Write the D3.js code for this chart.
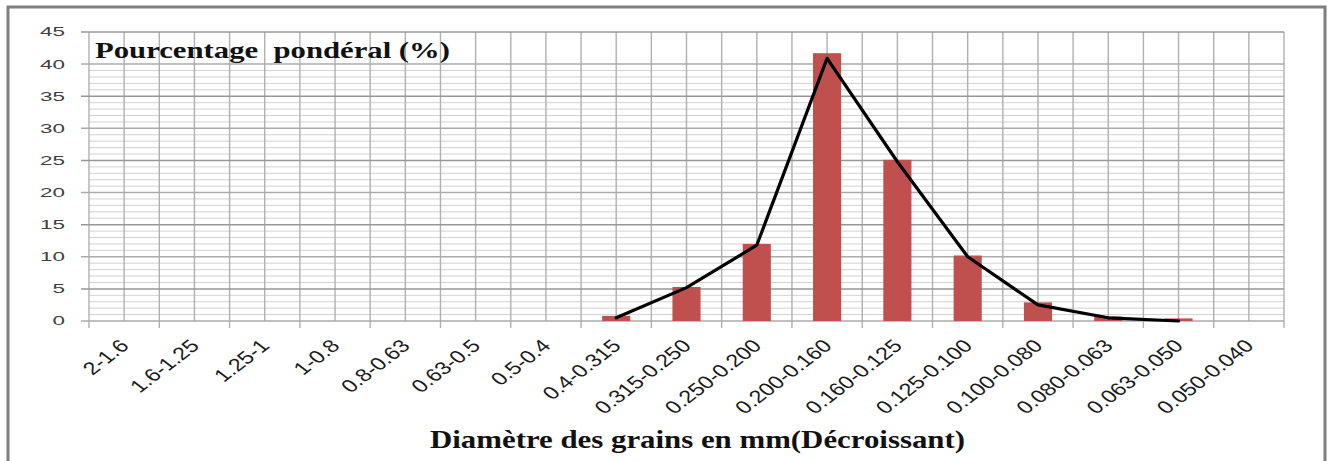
<!DOCTYPE html>
<html>
<head>
<meta charset="utf-8">
<script src="https://cdn.jsdelivr.net/npm/d3@7"></script>
<style>
  html, body { margin: 0; padding: 0; background: #fff; }
  svg { display: block; }
</style>
</head>
<body>
<script>
// ---- data ----
const categories = ["2-1.6","1.6-1.25","1.25-1","1-0.8","0.8-0.63","0.63-0.5","0.5-0.4","0.4-0.315","0.315-0.250","0.250-0.200","0.200-0.160","0.160-0.125","0.125-0.100","0.100-0.080","0.080-0.063","0.063-0.050","0.050-0.040"];
const barValues  = [0,0,0,0,0,0,0,0.8,5.3,12.0,41.7,25.1,10.2,2.9,0.7,0.4,0];
const lineValues = [null,null,null,null,null,null,null,0.5,5.2,11.8,40.9,24.8,10.0,2.5,0.5,0.0,null];
const yTicks = [0,5,10,15,20,25,30,35,40,45];
const yTitle = "Pourcentage  pondéral (%)";
const xTitle = "Diamètre des grains en mm(Décroissant)";

(function () {
const W = 1329, H = 461;
const svg = d3.select("body").append("svg").attr("width", W).attr("height", H);

const pL = 89, pR = 1284, pT = 32, pB = 321;
const x = d3.scaleBand().domain(categories).range([pL, pR]).padding(0);
const xb = d3.scaleBand().domain(categories).range([pL, pR]).paddingInner(0.6).paddingOuter(0.3);
const y = d3.scaleLinear().domain([0, 45]).range([pB, pT]);

// outer frame
svg.append("path")
  .attr("d", `M8,${H+5} L8,7 L1325,7 L1325,${H+5}`)
  .attr("fill", "none").attr("stroke", "#7f7f7f").attr("stroke-width", 3);

// minor horizontal gridlines
const minor = d3.range(1, 40).filter(v => v % 5 !== 0);
svg.append("g").selectAll("line").data(minor).join("line")
  .attr("x1", pL).attr("x2", pR)
  .attr("y1", d => y(d)).attr("y2", d => y(d))
  .attr("stroke", "#d2d2d2").attr("stroke-width", 1);

// vertical gridlines (category boundaries and centers)
const step = x.step();
const vpos = d3.range(0, categories.length * 2 + 1).map(k => pL + k * step / 2);
svg.append("g").selectAll("line").data(vpos).join("line")
  .attr("x1", d => d).attr("x2", d => d)
  .attr("y1", pT).attr("y2", (d, i) => i % 2 === 0 ? pB + 7 : pB)
  .attr("stroke", "#b0b0b0").attr("stroke-width", 1.4);

// major horizontal gridlines
svg.append("g").selectAll("line").data(yTicks).join("line")
  .attr("x1", pL - 8).attr("x2", pR)
  .attr("y1", d => y(d)).attr("y2", d => y(d))
  .attr("stroke", d => (d % 10 === 5) ? "#979797" : "#ababab").attr("stroke-width", 1.5);

// y tick labels
svg.append("g").selectAll("text").data(yTicks).join("text")
  .attr("x", 65).attr("y", d => y(d) + 1)
  .attr("text-anchor", "end").attr("dominant-baseline", "middle")
  .attr("font-family", "Liberation Sans, Arial, sans-serif").attr("font-size", 13)
  .attr("fill", "#404040")
  .attr("textLength", d => String(d).length * 12.5).attr("lengthAdjust", "spacingAndGlyphs")
  .text(d => d);

// bars
svg.append("g").selectAll("rect").data(categories.map((c, i) => ({c, v: barValues[i]})).filter(d => d.v > 0)).join("rect")
  .attr("x", d => xb(d.c)).attr("width", xb.bandwidth())
  .attr("y", d => y(d.v)).attr("height", d => y(0) - y(d.v))
  .attr("fill", "#C0504D");

// line
const lineData = categories.map((c, i) => ({c, v: lineValues[i]})).filter(d => d.v !== null);
svg.append("path").datum(lineData)
  .attr("d", d3.line().x(d => x(d.c) + x.bandwidth() / 2).y(d => y(d.v)))
  .attr("fill", "none").attr("stroke", "#000").attr("stroke-width", 3.2)
  .attr("stroke-linejoin", "round").attr("stroke-linecap", "round");

// x tick labels (rotated)
svg.append("g").selectAll("text").data(categories).join("text")
  .attr("transform", d => `translate(${x(d) + x.bandwidth() / 2 + 6},347) scale(1.3,1) rotate(-45)`)
  .attr("text-anchor", "end")
  .attr("font-family", "Liberation Sans, Arial, sans-serif").attr("font-size", 18)
  .attr("fill", "#1a1a1a")
  .text(d => d);

// titles
svg.append("text")
  .attr("x", 95).attr("y", 58)
  .attr("font-family", "Liberation Serif, Times New Roman, serif").attr("font-weight", "bold").attr("font-size", 23)
  .attr("fill", "#111")
  .attr("textLength", 355).attr("lengthAdjust", "spacingAndGlyphs")
  .attr("xml:space", "preserve")
  .text(yTitle);

svg.append("text")
  .attr("x", 430).attr("y", 448)
  .attr("font-family", "Liberation Serif, Times New Roman, serif").attr("font-weight", "bold").attr("font-size", 25)
  .attr("fill", "#111")
  .attr("textLength", 535).attr("lengthAdjust", "spacingAndGlyphs")
  .text(xTitle);
})();
</script>
</body>
</html>
